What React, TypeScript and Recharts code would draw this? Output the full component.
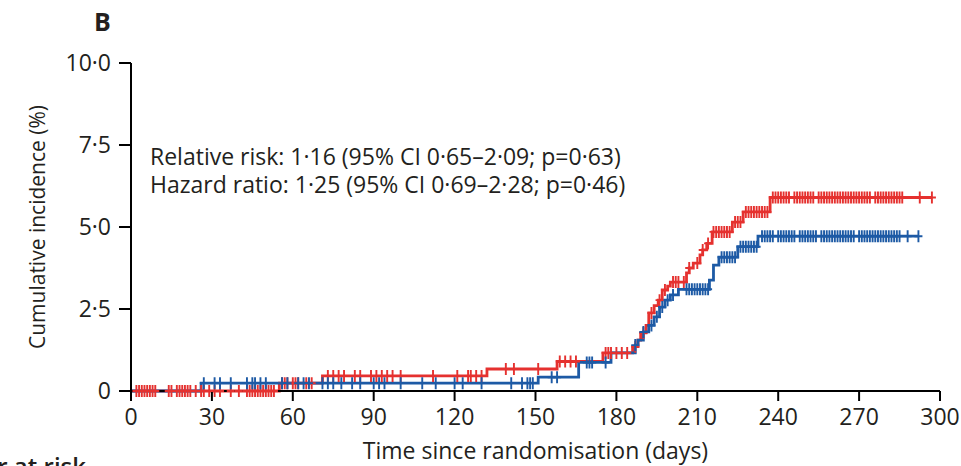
import { ComposedChart, Line, Scatter, XAxis, YAxis } from "recharts";

// step points of each Kaplan-Meier type curve (day, cumulative incidence %)
const redDays = [0, 55, 71, 132, 158, 175, 186, 188, 189, 191, 192, 194, 195.5, 197, 199, 200, 206, 207, 208.5, 211, 212, 213.5, 215.5, 223, 227, 237, 297];
const redRisk = [0, 0.24, 0.46, 0.67, 0.9, 1.16, 1.35, 1.55, 1.77, 2.0, 2.38, 2.6, 2.77, 3.08, 3.2, 3.32, 3.6, 3.75, 3.9, 4.15, 4.3, 4.5, 4.85, 5.15, 5.46, 5.9, 5.9];

const blueDays = [0, 26, 151, 166, 178, 187, 188, 190, 192, 194, 196, 198, 200, 203, 214.5, 216, 218, 225, 232.5, 292];
const blueRisk = [0, 0.24, 0.42, 0.87, 1.16, 1.4, 1.55, 1.8, 2.0, 2.26, 2.56, 2.77, 2.93, 3.1, 3.38, 3.84, 4.08, 4.4, 4.72, 4.72];

// censoring times
const redCensor = [
  2, 3, 4, 5, 6, 7, 8, 9, 14, 15, 17, 18, 19, 20, 21, 22, 24, 26, 27, 29, 31, 33, 37, 40,
  43, 44, 45, 46, 47, 48, 49, 50, 51, 52, 53, 56, 57, 58, 60, 61, 62, 65, 67,
  73, 75, 77, 79, 83, 85, 89, 91, 93, 95, 97, 100, 112, 121, 125, 126, 128, 130,
  139, 142, 151, 159, 161, 163, 165, 176, 177, 178, 180, 182, 184,
  187, 190, 193, 196, 198, 201, 202, 203, 205, 207, 210, 212, 214,
  216, 217, 218, 219, 220, 221, 222, 224, 225, 226,
  228, 229, 230, 231, 232, 233, 234, 235, 236,
  238, 239, 240, 241, 242, 243, 244, 246, 247, 248, 249, 250, 251, 252, 253, 255, 256, 257, 258, 259,
  260, 261, 262, 263, 264, 265, 266, 267, 268, 269, 270, 271, 272, 273, 274, 276, 277, 278, 279, 280,
  281, 282, 283, 284, 285, 286, 292.5, 297,
];
const blueCensor = [
  27, 31, 33, 37, 43, 45, 46, 48, 50, 56, 58, 62, 64, 66, 71, 73, 75, 78, 82, 85, 90, 92, 94,
  100, 108, 113, 120, 123, 130, 141, 145, 147, 148, 149, 156, 158, 169, 170, 171, 176,
  187, 190, 193, 195, 197, 199, 201, 206, 207, 208, 209, 210, 211, 212, 213, 214,
  219, 220, 221, 222, 223, 224, 226, 227, 228, 229, 230, 231, 232,
  234, 235, 236, 237, 238, 240, 241, 242, 243, 244, 245, 246, 248, 249, 250, 251, 252, 253, 254,
  256, 257, 258, 259, 260, 261, 262, 263, 264, 265, 266, 267, 268, 270, 271, 272, 273, 274, 275,
  276, 277, 278, 279, 280, 281, 282, 283, 284, 285, 288, 292,
];

const xTicks = [0, 30, 60, 90, 120, 150, 180, 210, 240, 270, 300];
const yTicks = [0, 2.5, 5, 7.5, 10];

const RED = "#e5312f";
const BLUE = "#1d5aa5";
const FONT = "'Open Sans', sans-serif";
const INK = "#231f20";

const toRows = (days: number[], risk: number[]) => days.map((d, i) => ({ day: d, risk: risk[i] }));
const stepAt = (days: number[], risk: number[], t: number) => {
  let v = 0;
  days.forEach((d, i) => {
    if (d <= t) v = risk[i];
  });
  return v;
};
const censorRows = (c: number[], days: number[], risk: number[]) => c.map((t) => ({ day: t, risk: stepAt(days, risk, t) }));

const redLine = toRows(redDays, redRisk);
const blueLine = toRows(blueDays, blueRisk);
const redMarks = censorRows(redCensor, redDays, redRisk);
const blueMarks = censorRows(blueCensor, blueDays, blueRisk);

const fmtY = (v: number) => (v === 0 ? "0" : v.toFixed(1).replace(".", "\u00b7"));

const cross = (color: string) => (p: any) => (
  <path d={`M${p.cx},${p.cy - 6}V${p.cy + 6}M${p.cx - 4},${p.cy}H${p.cx + 4}`} stroke={color} strokeWidth={1.9} fill="none" />
);

const note = { position: "absolute" as const, left: 150, fontSize: 23, lineHeight: "23px", whiteSpace: "nowrap" as const };

export default function App() {
  return (
    <div style={{ position: "absolute", left: 0, top: 0, width: 961, height: 466, overflow: "hidden", background: "#fff", fontFamily: FONT, color: INK }}>
      <div style={{ position: "absolute", left: 94, top: 4, fontSize: 25, fontWeight: 700, lineHeight: "normal" }}>B</div>
      <div style={{ ...note, top: 145 }}>Relative risk: 1·16 (95% CI 0·65–2·09; p=0·63)</div>
      <div style={{ ...note, top: 173 }}>Hazard ratio: 1·25 (95% CI 0·69–2·28; p=0·46)</div>
      <div style={{ position: "absolute", right: 875, top: 449, fontSize: 24, fontWeight: 600, whiteSpace: "nowrap" }}>Number at risk</div>
      <ComposedChart width={961} height={466} margin={{ top: 63, right: 21, bottom: 0, left: 0 }} style={{ fontFamily: FONT }}>
        <XAxis
          dataKey="day"
          type="number"
          domain={[0, 300]}
          ticks={xTicks}
          allowDataOverflow
          height={75}
          tickSize={10}
          tickMargin={8}
          stroke="#000"
          strokeWidth={2}
          tick={{ fill: INK, fontSize: 23 }}
          label={{ value: "Time since randomisation (days)", position: "insideBottom", offset: 7, fill: INK, fontSize: 23 }}
        />
        <YAxis
          type="number"
          domain={[0, 10]}
          ticks={yTicks}
          width={131}
          tickSize={12}
          tickMargin={8}
          tickFormatter={fmtY}
          stroke="#000"
          strokeWidth={2}
          tick={{ fill: INK, fontSize: 23 }}
          label={{ value: "Cumulative incidence (%)", angle: -90, position: "insideLeft", offset: 38, fill: INK, fontSize: 21, style: { textAnchor: "middle" } }}
        />
        <Line data={redLine} dataKey="risk" type="stepAfter" stroke={RED} strokeWidth={2.8} dot={false} isAnimationActive={false} />
        <Line data={blueLine} dataKey="risk" type="stepAfter" stroke={BLUE} strokeWidth={2.8} dot={false} isAnimationActive={false} />
        <Scatter data={redMarks} dataKey="risk" shape={cross(RED)} isAnimationActive={false} />
        <Scatter data={blueMarks} dataKey="risk" shape={cross(BLUE)} isAnimationActive={false} />
      </ComposedChart>
    </div>
  );
}
